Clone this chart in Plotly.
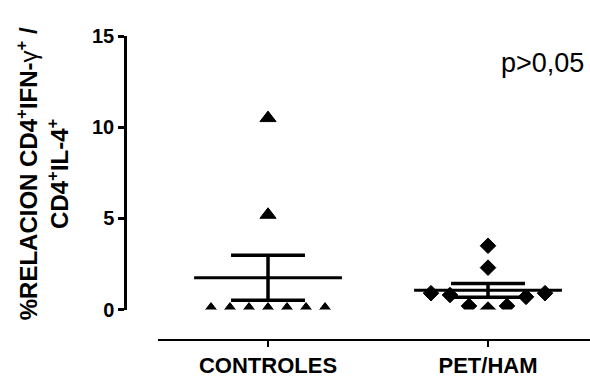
import plotly.graph_objects as go
import numpy as np

categories = ["CONTROLES", "PET/HAM"]
controles = [10.5, 5.2, 0.0, 0.0, 0.0, 0.0, 0.0, 0.0, 0.0]
pet_ham = [3.5, 2.3, 0.9, 0.8, 0.2, 0.0, 0.2, 0.7, 0.9]
y_ticks = [0, 5, 10, 15]
p_text = "p>0,05"

groups = [controles, pet_ham]
symbols = ["triangle-up", "diamond"]
sizes = [14, 12]

SPACING = 0.0864   # horizontal spacing of swarm points (axis units)
MEAN_HALF = 0.336
CAP_HALF = 0.168
CLUSTER = 1.0


def swarm_offsets(vals):
    vals = np.asarray(vals, dtype=float)
    order = np.argsort(vals, kind="stable")
    offs = np.zeros(len(vals))
    used = set()
    for i in order:
        if i in used:
            continue
        cluster = [j for j in order if j not in used and vals[j] - vals[i] < CLUSTER]
        for k, j in enumerate(cluster):
            step = (k + 1) // 2
            sign = 1 if k % 2 == 1 else -1
            offs[j] = sign * step * SPACING if k else 0.0
            used.add(j)
    return offs


fig = go.Figure()
for gi, vals in enumerate(groups):
    offs = swarm_offsets(vals)
    fig.add_trace(go.Scatter(
        x=gi + offs, y=vals, mode="markers",
        marker=dict(symbol=symbols[gi], size=sizes[gi], color="black",
                    line=dict(width=1, color="black")),
        showlegend=False, hoverinfo="y"))
    arr = np.asarray(vals, dtype=float)
    m = arr.mean()
    sem = arr.std(ddof=1) / np.sqrt(len(arr))
    fig.add_trace(go.Scatter(x=[gi - MEAN_HALF, gi + MEAN_HALF], y=[m, m],
                             mode="lines", line=dict(color="black", width=3),
                             showlegend=False, hoverinfo="skip"))
    fig.add_trace(go.Scatter(
        x=[gi - CAP_HALF, gi + CAP_HALF, None, gi, gi, None, gi - CAP_HALF, gi + CAP_HALF],
        y=[m + sem, m + sem, None, m + sem, m - sem, None, m - sem, m - sem],
        mode="lines", line=dict(color="black", width=3.5),
        showlegend=False, hoverinfo="skip"))

font_family = "Liberation Sans, Arial, sans-serif"

fig.update_layout(
    width=590, height=378,
    margin=dict(l=125, r=0, t=36, b=32),
    paper_bgcolor="white", plot_bgcolor="white",
    font=dict(family=font_family, color="black"),
    xaxis=dict(
        domain=[0.071, 1], range=[-0.5, 1.4636], anchor="free", position=0,
        tickvals=[0, 1], ticktext=[f"<b>{c}</b>" for c in categories],
        tickfont=dict(size=22, family=font_family, color="black"),
        showline=True, linecolor="black", linewidth=2,
        ticks="outside", ticklen=6, tickwidth=2, tickcolor="black",
        showgrid=False, zeroline=False, fixedrange=True),
    yaxis=dict(
        domain=[0.1, 1], range=[0, 15], anchor="free", position=0,
        tickvals=y_ticks, ticktext=[f"<b>{t}</b>" for t in y_ticks],
        tickfont=dict(size=20, family=font_family, color="black"),
        showline=True, linecolor="black", linewidth=2.5,
        ticks="outside", ticklen=6, tickwidth=2.5, tickcolor="black",
        showgrid=False, zeroline=False, fixedrange=True),
    annotations=[
        dict(text="<b>%RELACION CD4<sup>+</sup>IFN-</b>γ<b><sup>+</sup> /</b><br><b>CD4<sup>+</sup>IL-4<sup>+</sup></b>",
             xref="paper", yref="paper", x=(42 - 125) / 465, y=(346 - 177) / 310,
             xanchor="center", yanchor="middle", textangle=-90, showarrow=False,
             font=dict(size=24, family=font_family, color="black")),
        dict(text=p_text, xref="paper", yref="paper", x=(586 - 125) / 465,
             y=(346 - 64) / 310, xanchor="right", yanchor="middle", showarrow=False,
             font=dict(size=27, family=font_family, color="black")),
    ],
)

fig.write_html("out.html", config={"displayModeBar": False},
               post_script="document.body.style.margin='0';")
